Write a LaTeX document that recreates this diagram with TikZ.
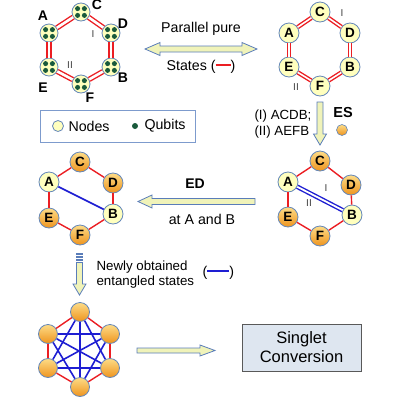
\documentclass[tikz,border=0pt]{standalone}
\usepackage{fontspec}
\setmainfont{Liberation Sans}
\definecolor{nodeyel}{RGB}{255,255,190}
\definecolor{nodebd}{RGB}{100,135,185}
\definecolor{orgtop}{RGB}{253,220,135}
\definecolor{orgbot}{RGB}{238,148,30}
\definecolor{qgreen}{RGB}{25,90,60}
\definecolor{redl}{RGB}{235,30,35}
\definecolor{bluel}{RGB}{30,30,210}
\definecolor{arrfill}{RGB}{240,243,185}
\definecolor{arrbd}{RGB}{90,125,185}
\definecolor{boxfill}{RGB}{222,230,240}
\definecolor{legbd}{RGB}{125,155,205}
\begin{document}
\begin{tikzpicture}[x=1pt,y=-1pt,
  ynode/.style={circle,inner sep=0pt,minimum size=#1,draw=nodebd,line width=0.8pt,fill=nodeyel,font=\bfseries\fontsize{13.5}{13.5}\selectfont},
  ynode/.default=20pt,
  onode/.style={circle,inner sep=0pt,minimum size=#1,draw=nodebd,line width=0.8pt,top color=orgtop,bottom color=orgbot,font=\bfseries\fontsize{13.5}{13.5}\selectfont},
  onode/.default=20pt,
  txt/.style={font=\fontsize{14.2}{16}\selectfont},
  txts/.style={font=\fontsize{13.3}{15}\selectfont},
  lbl/.style={font=\bfseries\fontsize{14}{14}\selectfont},
  rom/.style={font=\fontsize{10}{10}\selectfont,text=black!75},
  redd/.style={draw=redl,line width=1.4pt,double=white,double distance=#1},
  redl1/.style={draw=redl,line width=1.4pt},
  bluel1/.style={draw=bluel,line width=1.6pt},
  blockarr/.style={fill=arrfill,draw=arrbd,line width=0.8pt,line join=miter}
]
\useasboundingbox (0,0) rectangle (400,400);

% ---------- top-left hexagon with qubits
\node[ynode=18pt] (tlC) at (81,12) {};
\node[ynode=18pt] (tlA) at (49,33) {};
\node[ynode=18pt] (tlD) at (111,33) {};
\node[ynode=18pt] (tlE) at (49,67) {};
\node[ynode=18pt] (tlB) at (111,67) {};
\node[ynode=18pt] (tlF) at (81,84) {};
\draw[redd=2.6pt] (tlA)--(tlC);
\draw[redd=2.6pt] (tlC)--(tlD);
\draw[redd=2.6pt] (tlD)--(tlB);
\draw[redd=2.6pt] (tlB)--(tlF);
\draw[redd=2.6pt] (tlF)--(tlE);
\draw[redd=2.6pt] (tlE)--(tlA);
\foreach \n in {tlA,tlB,tlC,tlD,tlE,tlF}
  \foreach \dx/\dy in {-3.4/-3.4,3.4/-3.4,-3.4/3.4,3.4/3.4}
    \fill[qgreen] (\n.center) ++(\dx,\dy) circle[radius=2.5pt];
\node[lbl] (lA) at (43,16) {A};
\node[lbl] (lC) at (97,5) {C};
\node[lbl] (lD) at (123,24) {D};
\node[lbl] (lB) at (123,78) {B};
\node[lbl] (lE) at (43,88) {E};
\node[lbl] (lF) at (90,98) {F};
\node[rom] (tlI) at (93,34) {I};
\node[rom] (tlII) at (70,65) {II};

% ---------- top-right hexagon
\node[ynode] (trC) at (320,12) {C};
\node[ynode] (trA) at (289,33) {A};
\node[ynode] (trD) at (350,33) {D};
\node[ynode] (trE) at (289,67) {E};
\node[ynode] (trB) at (350,67) {B};
\node[ynode] (trF) at (320,86) {F};
\draw[redd=1.6pt] (trA)--(trC);
\draw[redd=1.6pt] (trC)--(trD);
\draw[redd=1.6pt] (trD)--(trB);
\draw[redd=1.6pt] (trB)--(trF);
\draw[redd=1.6pt] (trF)--(trE);
\draw[redd=1.6pt] (trE)--(trA);
\node[rom] (trI) at (342,13) {I};
\node[rom] (trII) at (296,87) {II};

% ---------- double arrow + text
\draw[blockarr] (145,49) -- (160,42.5) -- (160,46) -- (242,46) -- (242,42.5) -- (257,49)
  -- (242,55.5) -- (242,52) -- (160,52) -- (160,55.5) -- cycle;
\node[txt] (pp) at (201,29) {Parallel pure};
\node[txt] (st) at (201,67) {States (\textcolor{redl}{\rule[0.3em]{15pt}{2pt}})};

% ---------- legend
\node[draw=legbd,line width=0.8pt,fill=white,minimum width=155pt,minimum height=32pt] (legend) at (117.5,126) {};
\node[circle,inner sep=0pt,minimum size=11pt,draw=nodebd,line width=0.8pt,fill=nodeyel] (legN) at (58,126) {};
\node[txt,anchor=west] (legNt) at (65,126) {Nodes};
\fill[qgreen] (135,126) circle[radius=3pt];
\node[txt,anchor=west] (legQt) at (141,126) {Qubits};

% ---------- ES arrow
\draw[blockarr] (317,102) -- (323,102) -- (323,134) -- (326.5,134) -- (320,145) -- (313.5,134) -- (317,134) -- cycle;
\node[txts,anchor=west] (es1) at (251,116) {(I) ACDB;};
\node[txts,anchor=west] (es2) at (251,132) {(II) AEFB};
\node[lbl,font=\bfseries\fontsize{14.5}{14.5}\selectfont] (ES) at (343,113) {ES};
\node[circle,inner sep=0pt,minimum size=11pt,draw=nodebd,line width=0.6pt,top color=orgtop,bottom color=orgbot] (esb) at (342,130) {};

% ---------- middle-right hexagon
\node[onode] (mrC) at (320,161) {C};
\node[ynode] (mrA) at (288,182) {A};
\node[onode] (mrD) at (351,185) {D};
\node[onode] (mrE) at (288,217) {E};
\node[ynode] (mrB) at (352,215) {B};
\node[onode] (mrF) at (320,236) {F};
\draw[redl1] (mrA)--(mrC);
\draw[redl1] (mrC)--(mrD);
\draw[redl1] (mrD)--(mrB);
\draw[redl1] (mrB)--(mrF);
\draw[redl1] (mrF)--(mrE);
\draw[redl1] (mrE)--(mrA);
\draw[draw=bluel,line width=1.4pt,double=white,double distance=1.8pt] (mrA)--(mrB);
\node[rom] (mrI) at (326,188) {I};
\node[rom] (mrII) at (309,203) {II};

% ---------- ED arrow
\draw[blockarr] (138,201.5) -- (152,195) -- (152,198.5) -- (255,198.5) -- (255,204.5) -- (152,204.5) -- (152,208) -- cycle;
\node[lbl] (ED) at (195,184) {ED};
\node[txt] (atab) at (202,219) {at A and B};

% ---------- middle-left hexagon
\node[onode] (mlC) at (80,162) {C};
\node[ynode] (mlA) at (49,182) {A};
\node[onode] (mlD) at (113,183) {D};
\node[onode] (mlE) at (49,218) {E};
\node[ynode] (mlB) at (113,214) {B};
\node[onode] (mlF) at (80,235) {F};
\draw[redl1] (mlA)--(mlC);
\draw[redl1] (mlC)--(mlD);
\draw[redl1] (mlD)--(mlB);
\draw[redl1] (mlB)--(mlF);
\draw[redl1] (mlF)--(mlE);
\draw[redl1] (mlE)--(mlA);
\draw[bluel1] (mlA)--(mlB);

% ---------- down arrow (left)
\foreach \yy in {253,256,259}
  \draw[blockarr] (76.5,\yy) rectangle (82.5,\yy+1.6);
\draw[blockarr] (76.5,262.5) -- (82.5,262.5) -- (82.5,284) -- (86,284) -- (79.5,295) -- (73,284) -- (76.5,284) -- cycle;
\node[txts,anchor=west] (nw1) at (93,267) {Newly obtained};
\node[txts,anchor=west] (nw2) at (93,282) {entangled states};
\node[txt,anchor=west] (nw3) at (199,273) {(\textcolor{bluel}{\rule[0.3em]{22pt}{2pt}})};

% ---------- bottom complete hexagon
\node[onode=19pt] (bT) at (80,312) {};
\node[onode=19pt] (bUL) at (48,334) {};
\node[onode=19pt] (bUR) at (110,334) {};
\node[onode=19pt] (bLL) at (48,368) {};
\node[onode=19pt] (bLR) at (110,368) {};
\node[onode=19pt] (bB) at (80,387) {};
\draw[redl1] (bT)--(bUL);
\draw[redl1] (bT)--(bUR);
\draw[redl1] (bUL)--(bLL);
\draw[redl1] (bUR)--(bLR);
\draw[redl1] (bLL)--(bB);
\draw[redl1] (bLR)--(bB);
\draw[bluel1] (bT)--(bB);
\draw[bluel1] (bUL)--(bLR);
\draw[bluel1] (bUR)--(bLL);
\draw[bluel1] (bT)--(bLL);
\draw[bluel1] (bT)--(bLR);
\draw[bluel1] (bB)--(bUL);
\draw[bluel1] (bB)--(bUR);
\draw[bluel1] (bUL)--(bUR);
\draw[bluel1] (bLL)--(bLR);

% ---------- right arrow + box
\draw[blockarr] (137,348) -- (200,348) -- (200,345) -- (215,350.5) -- (200,356) -- (200,353) -- (137,353) -- cycle;
\node[draw=black!65,line width=0.8pt,fill=boxfill,minimum width=119pt,minimum height=47pt,align=center,font=\fontsize{16.5}{19}\selectfont] (sc) at (301.5,347.5) {Singlet\\Conversion};
\end{tikzpicture}
\end{document}
